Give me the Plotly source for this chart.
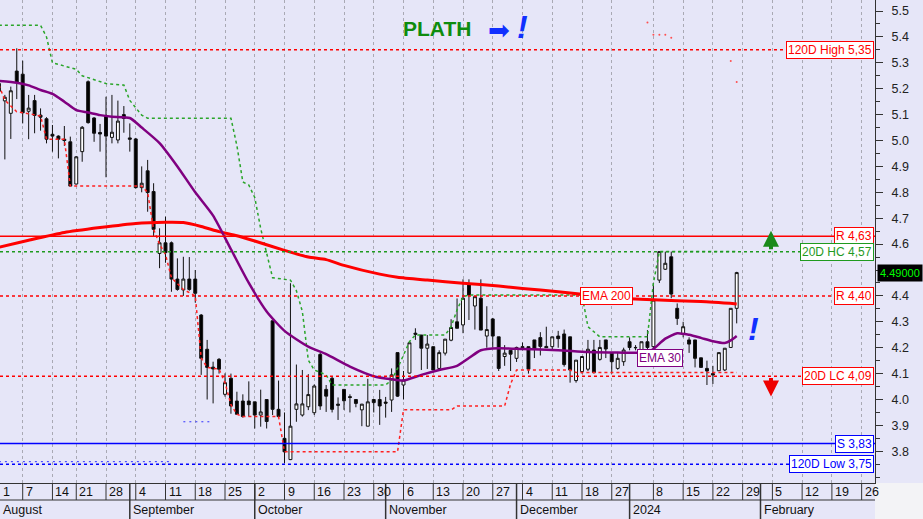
import plotly.graph_objects as go
import pandas as pd

# ---------------- axis domain: Athens trading days ----------------
holidays = ["2023-08-15", "2023-12-25", "2023-12-26", "2024-01-01"]
all_days = [d.strftime("%Y-%m-%d") for d in pd.bdate_range("2023-08-01", "2024-02-29")
            if d.strftime("%Y-%m-%d") not in holidays]

# ---------------- OHLC ----------------
opens = [5.22, 5.153, 5.105, 5.268, 5.256, 5.113, 5.154, 5.098, 5.084, 5.024,
         5.017, 5.005, 4.995, 4.832, 4.957, 5.227, 5.087, 5.031, 5.093, 5.012,
         5.002, 5.10, 5.01, 5.006, 4.818, 4.883, 4.803, 4.564, 4.605, 4.605,
         4.465, 4.423, 4.465, 4.465, 4.326, 4.194, 4.125, 4.155, 4.020, 4.082,
         3.994, 3.994, 3.994, 3.991, 3.94, 4.0, 4.304, 3.962, 3.85, 3.768,
         3.962, 3.94, 3.972, 3.949, 4.174, 4.039, 4.082, 3.982, 4.039, 4.011,
         4.0, 3.96, 3.897, 4.0, 4.0, 3.99, 3.998, 4.181, 4.056, 4.102,
         4.256, 4.249, 4.198, 4.204, 4.120, 4.179, 4.229, 4.300, 4.288, 4.446,
         4.361, 4.391, 4.245, 4.311, 4.242, 4.166, 4.19, 4.159, 4.204, 4.204,
         4.23, 4.239, 4.205, 4.204, 4.245, 4.253, 4.242, 4.073, 4.108, 4.117,
         4.191, 4.155, 4.23, 4.179, 4.120, 4.146, 4.223, 4.201, 4.191, 4.223,
         4.204, 4.461, 4.503, 4.551, 4.352, 4.253, 4.23, 4.23, 4.161, 4.12,
         4.10, 4.111, 4.114, 4.201, 4.352]
highs = [5.25, 5.176, 5.208, 5.356, 5.308, 5.176, 5.176, 5.124, 5.09, 5.06,
         5.02, 5.056, 5.015, 4.94, 5.056, 5.232, 5.09, 5.064, 5.169, 5.176,
         5.154, 5.133, 5.066, 5.01, 4.90, 4.925, 4.835, 4.661, 4.706, 4.61,
         4.545, 4.551, 4.55, 4.50, 4.33, 4.23, 4.146, 4.16, 4.101, 4.10,
         4.03, 4.02, 4.07, 3.991, 4.038, 4.0, 4.304, 4.073, 3.95, 4.449,
         4.135, 4.114, 4.098, 4.058, 4.18, 4.056, 4.09, 4.008, 4.039, 4.02,
         4.0, 3.983, 4.08, 4.0, 4.037, 4.01, 4.12, 4.181, 4.11, 4.219,
         4.275, 4.249, 4.249, 4.204, 4.19, 4.233, 4.31, 4.39, 4.464, 4.464,
         4.40, 4.464, 4.36, 4.315, 4.242, 4.21, 4.19, 4.204, 4.22, 4.204,
         4.23, 4.26, 4.281, 4.242, 4.265, 4.27, 4.242, 4.152, 4.166, 4.23,
         4.23, 4.23, 4.23, 4.179, 4.18, 4.20, 4.24, 4.21, 4.223, 4.268,
         4.449, 4.571, 4.571, 4.571, 4.371, 4.30, 4.24, 4.23, 4.161, 4.15,
         4.13, 4.181, 4.198, 4.352, 4.493]
lows = [5.12, 4.927, 5.006, 5.16, 5.066, 5.005, 5.028, 5.038, 4.989, 4.957,
        4.931, 4.979, 4.824, 4.83, 4.918, 5.065, 4.995, 4.957, 4.858, 4.989,
        4.989, 5.03, 4.957, 4.815, 4.80, 4.725, 4.629, 4.507, 4.528, 4.416,
        4.42, 4.40, 4.42, 4.374, 4.095, 4.0, 3.985, 4.10, 4.011, 3.945,
        3.94, 3.93, 3.934, 3.888, 3.895, 3.888, 3.94, 3.934, 3.754, 3.766,
        3.914, 3.934, 3.959, 3.94, 3.96, 3.952, 3.95, 3.921, 3.96, 3.95,
        3.97, 3.897, 3.897, 3.95, 3.902, 3.93, 3.952, 4.01, 4.0, 4.10,
        4.23, 4.114, 4.118, 4.114, 4.114, 4.17, 4.225, 4.275, 4.256, 4.307,
        4.27, 4.268, 4.20, 4.20, 4.11, 4.13, 4.11, 4.145, 4.19, 4.10,
        4.16, 4.17, 4.20, 4.195, 4.20, 4.127, 4.065, 4.065, 4.10, 4.11,
        4.10, 4.15, 4.16, 4.10, 4.115, 4.13, 4.19, 4.19, 4.19, 4.19,
        4.191, 4.45, 4.50, 4.391, 4.288, 4.24, 4.18, 4.124, 4.124, 4.056,
        4.06, 4.11, 4.11, 4.20, 4.294]
closes = [5.19, 5.167, 5.192, 5.225, 5.107, 5.125, 5.097, 5.090, 5.005, 5.017,
          5.005, 5.000, 4.824, 4.937, 5.051, 5.069, 5.028, 5.025, 5.017, 5.032,
          5.075, 5.085, 5.005, 4.818, 4.835, 4.799, 4.657, 4.605, 4.567, 4.465,
          4.425, 4.465, 4.425, 4.41, 4.159, 4.124, 4.118, 4.117, 4.065, 3.975,
          3.943, 3.934, 3.98, 3.94, 3.952, 3.915, 3.962, 3.934, 3.798, 3.897,
          3.983, 3.983, 4.019, 4.052, 3.975, 4.013, 3.962, 3.978, 3.995, 4.008,
          3.985, 3.982, 3.991, 3.988, 3.975, 3.986, 4.095, 4.013, 4.075, 4.219,
          4.252, 4.198, 4.214, 4.114, 4.181, 4.233, 4.278, 4.275, 4.391, 4.403,
          4.397, 4.268, 4.270, 4.245, 4.120, 4.179, 4.175, 4.201, 4.200, 4.117,
          4.195, 4.205, 4.20, 4.242, 4.235, 4.135, 4.114, 4.152, 4.166, 4.194,
          4.104, 4.201, 4.195, 4.146, 4.159, 4.191, 4.201, 4.200, 4.223, 4.201,
          4.384, 4.571, 4.526, 4.407, 4.313, 4.281, 4.214, 4.159, 4.124, 4.110,
          4.095, 4.181, 4.198, 4.352, 4.490]
dates = all_days[:len(closes)]

# ---------------- indicator lines (index into trading days) ----------------
ema200_idx = [0, 5, 11, 17, 23, 28, 31, 34, 37, 40, 43, 48, 52, 55, 58, 64, 67, 72, 78, 84, 88, 94, 98, 104, 110, 118, 124]
ema200_val = [4.588, 4.615, 4.645, 4.664, 4.680, 4.684, 4.683, 4.668, 4.648, 4.632, 4.612, 4.576, 4.550, 4.540,
              4.518, 4.484, 4.472, 4.461, 4.449, 4.438, 4.429, 4.416, 4.406, 4.392, 4.385, 4.378, 4.369]

ema30_idx = [0, 3, 5, 7, 9, 11, 13, 15, 17, 19, 22, 24, 27, 30, 33, 36, 39, 42, 45, 48, 52, 55, 59, 63, 66, 68,
             71, 74, 77, 79, 81, 84, 88, 94, 99, 104, 109, 110, 112, 114, 116, 118, 120, 122, 123, 124]
ema30_val = [5.230, 5.223, 5.213, 5.195, 5.180, 5.150, 5.117, 5.108, 5.098, 5.092, 5.087, 5.050, 4.990, 4.900,
             4.800, 4.710, 4.580, 4.450, 4.340, 4.265, 4.204, 4.175, 4.127, 4.090, 4.078, 4.073, 4.095, 4.114,
             4.130, 4.160, 4.190, 4.198, 4.195, 4.190, 4.183, 4.181, 4.182, 4.195, 4.235, 4.256, 4.250, 4.238,
             4.225, 4.218, 4.228, 4.245]

hc_idx = [0, 7, 8, 9, 13, 14, 18, 21, 22, 24, 25, 39, 40, 41, 42, 43, 44, 45, 46, 49, 50, 51, 52, 53, 55, 56,
          65, 66, 67, 69, 70, 75, 76, 77, 78, 79, 98, 99, 101, 109, 110, 111, 124]
hc_val = [5.445, 5.445, 5.40, 5.30, 5.275, 5.25, 5.22, 5.214, 5.155, 5.098, 5.086, 5.086, 4.98, 4.84, 4.828,
          4.78, 4.66, 4.56, 4.47, 4.461, 4.42, 4.34, 4.152, 4.114, 4.095, 4.056, 4.056, 4.075, 4.12, 4.223,
          4.249, 4.249, 4.281, 4.346, 4.397, 4.403, 4.403, 4.281, 4.242, 4.242, 4.45, 4.571, 4.571]

lc_idx = [0, 1, 3, 6, 7, 8, 11, 12, 24, 25, 26, 27, 28, 29, 31, 33, 34, 35, 37, 38, 39, 40, 41, 47, 48, 67, 68,
          76, 77, 85, 86, 87, 96, 97, 124]
lc_val = [5.214, 5.156, 5.111, 5.097, 5.095, 5.005, 5.005, 4.824, 4.824, 4.799, 4.657, 4.60, 4.56, 4.47, 4.425,
          4.40, 4.16, 4.124, 4.117, 4.065, 3.98, 3.943, 3.934, 3.934, 3.798, 3.798, 3.96, 3.96, 3.975, 3.975,
          4.06, 4.114, 4.114, 4.104, 4.104]

low_env_idx = [0, 29, 30, 31, 36]
low_env_val = [3.76, 3.76, None, 3.914, 3.914]
up_dots_idx = [109, 110, 111, 112, 113, 123, 124]
up_dots_val = [5.456, 5.408, 5.408, 5.408, 5.397, 5.307, 5.226]

# ---------------- levels and labels ----------------
level_vals = [5.35, 4.63, 4.57, 4.40, 4.09, 3.83, 3.75]
level_text = ["120D High 5,35", "R 4,63", "20D HC 4,57", "R 4,40", "20D LC 4,09", "S 3,83", "120D Low 3,75"]
level_color = ["#ff0000", "#ff0000", "#1f9a1f", "#ff0000", "#ff0000", "#0000ff", "#0000ff"]
level_dash = ["3px,3px", "solid", "3px,3px", "3px,3px", "3px,3px", "solid", "3px,3px"]

y_tickvals = [round(3.8 + 0.1 * i, 1) for i in range(18)]
y_ticktext = ["" if v == 4.5 else f"{v:.1f}" for v in y_tickvals]

tick_dates = ["2023-08-01", "2023-08-07", "2023-08-14", "2023-08-21", "2023-08-28", "2023-09-04", "2023-09-11",
              "2023-09-18", "2023-09-25", "2023-10-02", "2023-10-09", "2023-10-16", "2023-10-23", "2023-10-30",
              "2023-11-06", "2023-11-13", "2023-11-20", "2023-11-27", "2023-12-04", "2023-12-11", "2023-12-18",
              "2023-12-27", "2024-01-08", "2024-01-15", "2024-01-22", "2024-01-29", "2024-02-05", "2024-02-12",
              "2024-02-19", "2024-02-26"]
tick_text = [str(int(d[-2:])) for d in tick_dates]
month_dates = ["2023-08-01", "2023-09-01", "2023-10-02", "2023-11-01", "2023-12-01", "2024-01-02", "2024-02-01"]
month_text = ["August", "September", "October", "November", "December", "2024", "February"]

FONT = "Liberation Sans, Arial"
BG = "#e6e6f8"
W, H = 923, 519
ML, MR, MT, MB = 0, 48, 0, 36
PW, PH = W - ML - MR, H - MT - MB
Y0, Y1 = 3.6776, 5.5425
X0 = 0.185
X1 = X0 + PW / 5.95


def pick(idx, val):
    return [all_days[i] for i in idx], val


fig = go.Figure()
# register the whole trading-day axis
fig.add_trace(go.Scatter(x=all_days, y=[None] * len(all_days), mode="lines", showlegend=False, hoverinfo="skip"))

fig.add_trace(go.Candlestick(
    x=dates, open=opens, high=highs, low=lows, close=closes,
    increasing=dict(line=dict(color="#111111", width=1), fillcolor="#ffffff"),
    decreasing=dict(line=dict(color="#111111", width=1), fillcolor="#000000"),
    whiskerwidth=0, showlegend=False, hoverinfo="skip"))

x, y = pick(hc_idx, hc_val)
fig.add_trace(go.Scatter(x=x, y=y, mode="lines", line=dict(color="#2aa52a", width=1.5, dash="3px,3px"),
                         showlegend=False, hoverinfo="skip"))
x, y = pick(lc_idx, lc_val)
fig.add_trace(go.Scatter(x=x, y=y, mode="lines", line=dict(color="#ff2020", width=1.5, dash="3px,3px"),
                         showlegend=False, hoverinfo="skip"))
x, y = pick(low_env_idx, low_env_val)
fig.add_trace(go.Scatter(x=x, y=y, mode="lines", line=dict(color="#3030ff", width=1, dash="2px,4px"),
                         connectgaps=False, showlegend=False, hoverinfo="skip"))
x, y = pick(up_dots_idx, up_dots_val)
fig.add_trace(go.Scatter(x=x, y=y, mode="markers", marker=dict(color="#ff5050", size=2),
                         showlegend=False, hoverinfo="skip"))
x, y = pick(ema200_idx, ema200_val)
fig.add_trace(go.Scatter(x=x, y=y, mode="lines", line=dict(color="#ff0000", width=3, shape="spline", smoothing=0.6),
                         showlegend=False, hoverinfo="skip"))
x, y = pick(ema30_idx, ema30_val)
fig.add_trace(go.Scatter(x=x, y=y, mode="lines", line=dict(color="#800080", width=2.5, shape="spline", smoothing=0.6),
                         showlegend=False, hoverinfo="skip"))

shapes = []
annotations = []
for v, t, c, d in zip(level_vals, level_text, level_color, level_dash):
    shapes.append(dict(type="line", xref="paper", yref="y", x0=0, x1=1, y0=v, y1=v,
                       line=dict(color=c, width=1.5, dash=d), layer="above"))
    annotations.append(dict(xref="paper", yref="y", x=1, xshift=-1, y=v, xanchor="right", yanchor="middle",
                            text=t, showarrow=False, font=dict(family=FONT, size=12, color=c),
                            bgcolor="#ffffff", bordercolor=c, borderwidth=1, borderpad=1))

# axis rows
row1 = -17 / PH
row2 = -36 / PH
shapes.append(dict(type="rect", xref="paper", yref="paper", x0=1, x1=W / PW, y0=row2, y1=0,
                   fillcolor="#f3f3f6", line=dict(width=0), layer="below"))
for d in tick_dates[1:]:
    shapes.append(dict(type="line", xref="x", yref="paper", x0=d, x1=d, y0=0, y1=row1,
                       line=dict(color="#333333", width=1)))
for d in month_dates[1:]:
    shapes.append(dict(type="line", xref="x", yref="paper", x0=d, x1=d, y0=0, y1=row2,
                       line=dict(color="#333333", width=1.5)))
shapes.append(dict(type="line", xref="paper", yref="paper", x0=0, x1=1, y0=row1, y1=row1,
                   line=dict(color="#333333", width=1)))
for i, (d, t) in enumerate(zip(tick_dates, tick_text)):
    if i == 0:
        pos = dict(xref="paper", x=0, xshift=1)
    else:
        pos = dict(xref="x", x=d, xshift=1)
    annotations.append(dict(yref="paper", y=-8.5 / PH, xanchor="left", yanchor="middle",
                            text=t, showarrow=False, font=dict(family=FONT, size=12.5, color="#111111"), **pos))
for i, (d, t) in enumerate(zip(month_dates, month_text)):
    if i == 0:
        pos = dict(xref="paper", x=0, xshift=1)
    else:
        pos = dict(xref="x", x=d, xshift=1)
    annotations.append(dict(yref="paper", y=-26.5 / PH, xanchor="left", yanchor="middle",
                            text=t, showarrow=False, font=dict(family=FONT, size=12.5, color="#111111"), **pos))

# chart texts
annotations += [
    dict(xref="paper", yref="paper", x=437 / PW, y=1 - 29 / PH, text="<b>PLATH</b>", showarrow=False,
         font=dict(family="Liberation Sans, Arial", size=21, color="#0e8c0e"), xanchor="center", yanchor="middle"),
    dict(xref="paper", yref="paper", x=499 / PW, y=1 - 30 / PH, text="➡", showarrow=False,
         font=dict(family="DejaVu Sans", size=26, color="#1030ff"), xanchor="center", yanchor="middle"),
    dict(xref="paper", yref="paper", x=522 / PW, y=1 - 27 / PH, text="<b><i>!</i></b>", showarrow=False,
         font=dict(family="Liberation Sans, Arial", size=32, color="#1030ff"), xanchor="center", yanchor="middle"),
    dict(xref="paper", yref="paper", x=753 / PW, y=1 - 329 / PH, text="<b><i>!</i></b>", showarrow=False,
         font=dict(family="Liberation Sans, Arial", size=32, color="#1030ff"), xanchor="center", yanchor="middle"),
    dict(xref="paper", yref="y", x=606 / PW, y=4.398, text="EMA 200", showarrow=False,
         font=dict(family=FONT, size=12, color="#ff0000"), bgcolor="#ffffff", bordercolor="#ff0000",
         borderwidth=1, borderpad=1, xanchor="center", yanchor="middle"),
    dict(xref="paper", yref="y", x=660 / PW, y=4.162, text="EMA 30", showarrow=False,
         font=dict(family=FONT, size=12, color="#800080"), bgcolor="#ffffff", bordercolor="#800080",
         borderwidth=1, borderpad=1, xanchor="center", yanchor="middle"),
    dict(xref="paper", yref="y", x=1, xshift=2, y=closes[-1], text="4.49000", showarrow=False,
         font=dict(family=FONT, size=11, color="#00ff00"), bgcolor="#000000", borderpad=2,
         xanchor="left", yanchor="middle"),
    dict(xref="paper", yref="y", x=771 / PW, y=4.652, ax=0, ay=20, axref="pixel", ayref="pixel",
         showarrow=True, arrowhead=2, arrowsize=0.8, arrowwidth=4, arrowcolor="#1a8a1a", text=""),
    dict(xref="paper", yref="y", x=771 / PW, y=4.012, ax=0, ay=-20, axref="pixel", ayref="pixel",
         showarrow=True, arrowhead=2, arrowsize=0.8, arrowwidth=4, arrowcolor="#ee0000", text=""),
]

fig.update_layout(
    width=W, height=H, margin=dict(l=ML, r=MR, t=MT, b=MB, pad=0),
    paper_bgcolor=BG, plot_bgcolor=BG, showlegend=False,
    shapes=shapes, annotations=annotations, boxgap=0.3,
    xaxis=dict(type="category", categoryorder="array", categoryarray=all_days, range=[X0, X1],
               tickvals=tick_dates[1:], showticklabels=False, ticks="", showgrid=True,
               gridcolor="#a9a9b4", gridwidth=1, griddash="3px,3px", showline=True, linecolor="#333333",
               rangeslider=dict(visible=False), zeroline=False, fixedrange=True),
    yaxis=dict(side="right", range=[Y0, Y1], tickvals=y_tickvals, ticktext=y_ticktext,
               ticks="outside", ticklen=7, tickcolor="#333333", showgrid=False,
               showline=True, linecolor="#333333", zeroline=False, ticklabelstandoff=6,
               tickfont=dict(family=FONT, size=12.5, color="#222222"),
               minor=dict(dtick=0.05, tick0=3.75, ticks="outside", ticklen=4, tickcolor="#333333", showgrid=False)),
)

fig.write_html("out.html", config={"displayModeBar": False},
               post_script="document.body.style.margin='0px';document.body.style.overflow='hidden';")
